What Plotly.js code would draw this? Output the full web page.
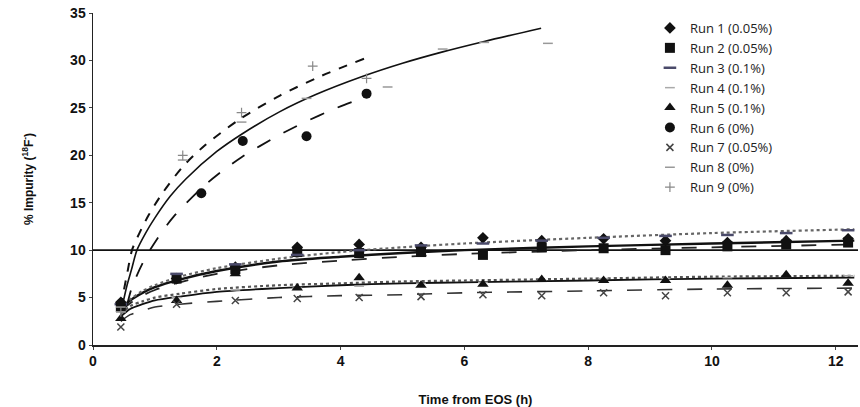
<!DOCTYPE html>
<html>
<head>
<meta charset="utf-8">
<script src="https://cdn.plot.ly/plotly-3.0.1.min.js"></script>
<style>html,body{margin:0;padding:0;background:#fff;}#chart{width:860px;height:407px;}</style>
</head>
<body>
<div id="chart"></div>
<script>
// ---- sampling times (h) ----
const tLow = [0.45, 1.35, 2.3, 3.3, 4.3, 5.3, 6.3, 7.25, 8.25, 9.25, 10.25, 11.2, 12.2];

// ---- measured impurity values (%) ----
const run1 = [4.5, 7.0, 8.2, 10.3, 10.6, 10.3, 11.3, 11.0, 11.2, 11.0, 10.8, 11.0, 11.2];
const run2 = [4.0, 7.0, 8.0, 9.8, 9.7, 9.8, 9.5, 10.3, 10.2, 10.0, 10.4, 10.6, 10.8];
const run3 = [4.3, 7.5, 8.5, 9.5, 10.0, 10.5, 10.7, 11.0, 11.3, 11.5, 11.6, 11.8, 12.1];
const run4 = [3.5, 5.0, 5.8, 6.0, 6.2, 6.5, 6.6, 6.8, 7.0, 7.0, 7.1, 7.3, 7.3];
const run5 = [2.8, 4.7, 7.5, 6.0, 7.1, 6.3, 6.4, 6.9, 6.8, 6.8, 6.3, 7.4, 6.5];
const run7 = [1.9, 4.3, 4.7, 4.9, 5.0, 5.1, 5.3, 5.2, 5.5, 5.2, 5.5, 5.5, 5.6];

const t6 = [0.45, 1.75, 2.42, 3.45, 4.42];
const run6 = [4.3, 16.0, 21.5, 22.0, 26.5];
const t8 = [0.45, 1.45, 2.4, 3.45, 4.76, 5.65, 6.32, 7.35];
const run8 = [4.0, 19.5, 23.5, 26.0, 27.2, 31.2, 31.9, 31.8];
const t9 = [0.45, 1.45, 2.4, 3.55, 4.42];
const run9 = [3.5, 20.0, 24.5, 29.4, 28.1];

// ---- fitted trend curves ----
const fitX = [0.45, 0.6, 0.8, 1, 1.4, 2, 3, 4, 5, 6, 8, 10, 12.3];
const fit1 = [3.8, 4.7, 5.5, 6.1, 6.9, 7.8, 8.8, 9.3, 9.7, 10.0, 10.4, 10.7, 11.0];
const fit2 = [3.6, 4.4, 5.2, 5.8, 6.6, 7.5, 8.4, 8.9, 9.3, 9.6, 10.0, 10.3, 10.6];
const fit3 = [3.8, 4.8, 5.7, 6.3, 7.2, 8.1, 9.1, 9.8, 10.3, 10.7, 11.3, 11.8, 12.2];
const fit4 = [3.3, 4.1, 4.6, 5.0, 5.4, 5.9, 6.3, 6.5, 6.7, 6.8, 7.0, 7.2, 7.3];
const fit5 = [3.0, 3.8, 4.3, 4.7, 5.1, 5.6, 6.0, 6.3, 6.5, 6.6, 6.8, 7.0, 7.1];
const fit7 = [2.5, 3.2, 3.6, 4.0, 4.3, 4.6, 5.0, 5.2, 5.3, 5.5, 5.7, 5.9, 6.0];

const fit6X = [0.55, 0.62, 0.7, 0.8, 0.92, 1.1, 1.3, 1.73, 2.0, 2.4, 3.0, 3.39, 3.9, 4.42];
const fit6 = [4.2, 5.9, 7.2, 8.6, 10.0, 11.8, 13.5, 16.4, 17.9, 19.8, 22.1, 23.4, 24.9, 26.2];
const fit8X = [0.47, 0.55, 0.62, 0.71, 0.85, 1.0, 1.25, 1.5, 2.0, 2.42, 3.02, 3.6, 4.35, 5.0, 5.65, 6.32, 7.24];
const fit8 = [4.0, 6.3, 7.9, 10.0, 11.8, 13.4, 15.7, 17.5, 20.4, 22.3, 24.6, 26.4, 28.3, 29.7, 30.9, 32.0, 33.4];
const fit9X = [0.45, 0.5, 0.56, 0.63, 0.75, 0.9, 1.1, 1.45, 1.8, 2.37, 3.02, 3.7, 4.39];
const fit9 = [4.0, 5.8, 7.8, 10.0, 11.8, 13.7, 15.8, 18.8, 21.0, 23.8, 26.3, 28.4, 30.2];

const threshold = 10;

const legendNames = ["Run 1 (0.05%)", "Run 2 (0.05%)", "Run 3 (0.1%)", "Run 4 (0.1%)", "Run 5 (0.1%)",
                     "Run 6 (0%)", "Run 7 (0.05%)", "Run 8 (0%)", "Run 9 (0%)"];

function pts(x, y, name, marker) {
  return {x: x, y: y, name: name, type: 'scatter', mode: 'markers', marker: marker, cliponaxis: false};
}
function fit(x, y, dash, color, width) {
  return {x: x, y: y, type: 'scatter', mode: 'lines', showlegend: false, hoverinfo: 'skip',
          line: {shape: 'spline', smoothing: 0.8, dash: dash, color: color || '#111', width: width || 1.6}};
}

const traces = [
  fit([0, 12.36], [threshold, threshold], 'solid', '#111', 1.8),
  fit(fitX, fit1, 'solid', '#111', 2.4),
  fit(fitX, fit2, 'longdash', '#222', 1.8),
  fit(fitX, fit3, 'dot', '#666', 2.2),
  fit(fitX, fit4, 'dot', '#555', 2.2),
  fit(fitX, fit5, 'solid', '#111', 1.8),
  fit(fitX, fit7, 'longdash', '#333', 1.6),
  fit(fit6X, fit6, 'longdash', '#111', 1.8),
  fit(fit8X, fit8, 'solid', '#111', 1.6),
  fit(fit9X, fit9, 'dash', '#111', 2.0),
  pts(tLow, run1, legendNames[0], {symbol: 'diamond', size: 9, color: '#111'}),
  pts(tLow, run2, legendNames[1], {symbol: 'square', size: 10, color: '#111'}),
  pts(tLow, run3, legendNames[2], {symbol: 'line-ew', size: 9, line: {color: '#4a4a6a', width: 2.5}}),
  pts(tLow, run4, legendNames[3], {symbol: 'line-ew', size: 7, line: {color: '#aaaaaa', width: 1.5}}),
  pts(tLow, run5, legendNames[4], {symbol: 'triangle-up', size: 10, color: '#111'}),
  pts(t6, run6, legendNames[5], {symbol: 'circle', size: 10, color: '#111'}),
  pts(tLow, run7, legendNames[6], {symbol: 'x-thin', size: 7, line: {color: '#444', width: 1.5}}),
  pts(t8, run8, legendNames[7], {symbol: 'line-ew', size: 7, line: {color: '#999', width: 1.5}}),
  pts(t9, run9, legendNames[8], {symbol: 'cross-thin', size: 7, line: {color: '#888', width: 1.2}})
];

const axisFont = {family: 'Liberation Sans, Arial, sans-serif', size: 14, color: '#111', weight: 'bold'};

const layout = {
  width: 860, height: 407,
  margin: {l: 93, r: 2, t: 13, b: 62},
  paper_bgcolor: '#fff', plot_bgcolor: '#fff',
  showlegend: true,
  legend: {x: 0.728, y: 1.0, xanchor: 'left', yanchor: 'top', bgcolor: 'rgba(0,0,0,0)',
           font: {family: 'Open Sans, sans-serif', size: 13, color: '#222'}, tracegroupgap: 0, itemwidth: 30},
  xaxis: {range: [0, 12.36], tickvals: [0, 2, 4, 6, 8, 10, 12], ticks: 'outside', ticklen: 3,
          showgrid: false, zeroline: false, showline: true, linecolor: '#222', linewidth: 1.5,
          tickfont: axisFont,
          title: {text: 'Time from EOS (h)', font: {family: 'Liberation Sans, Arial, sans-serif', size: 13, color: '#111', weight: 'bold'}, standoff: 28}},
  yaxis: {range: [0, 35], tickvals: [0, 5, 10, 15, 20, 25, 30, 35], ticks: 'outside', ticklen: 3,
          showgrid: false, zeroline: false, showline: true, linecolor: '#222', linewidth: 1.5,
          tickfont: axisFont,
          title: {text: '% Impurity (<sup>18</sup>F<sup>-</sup>)', font: {family: 'Liberation Sans, Arial, sans-serif', size: 12, color: '#111', weight: 'bold'}, standoff: 34}}
};

Plotly.newPlot('chart', traces, layout, {displayModeBar: false, staticPlot: true});
</script>
</body>
</html>
